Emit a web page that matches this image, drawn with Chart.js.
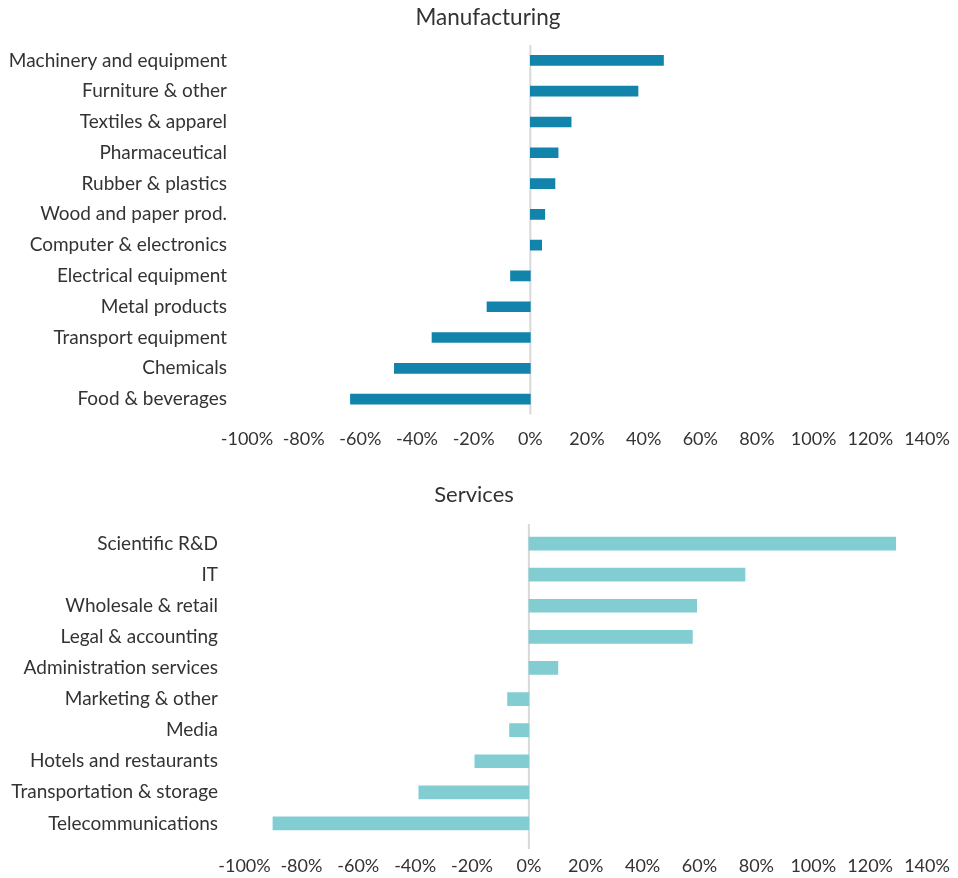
<!DOCTYPE html>
<html>
<head>
<meta charset="utf-8">
<script src="https://cdn.jsdelivr.net/npm/chart.js@4/dist/chart.umd.min.js"></script>
<style>
  html, body { margin: 0; padding: 0; background: #fff; }
  .wrap { position: absolute; left: 0; width: 958px; }
  #mfgWrap { top: 0; height: 468px; }
  #svcWrap { top: 468px; height: 410px; }
  .title {
    position: absolute; width: 300px; text-align: center;
    font: 22px Lato, "Open Sans", sans-serif; color: #333;
    line-height: 26px; white-space: nowrap;
  }
  #mfgTitle { left: 338px; top: 4px; font-size: 22.5px; }
  #svcTitle { left: 324px; top: 481px; }
</style>
</head>
<body>
<div class="wrap" id="mfgWrap"><canvas id="mfgChart"></canvas></div>
<div class="wrap" id="svcWrap"><canvas id="svcChart"></canvas></div>
<div class="title" id="mfgTitle">Manufacturing</div>
<div class="title" id="svcTitle">Services</div>
<script>
// Change by sector, percent
const mfgLabels = [
  "Machinery and equipment", "Furniture & other", "Textiles & apparel",
  "Pharmaceutical", "Rubber & plastics", "Wood and paper prod.",
  "Computer & electronics", "Electrical equipment", "Metal products",
  "Transport equipment", "Chemicals", "Food & beverages",
];
const mfgValues = [47, 38, 14.4, 9.8, 8.7, 5.1, 4.0, -7, -15.3, -34.7, -48, -63.5];

const svcLabels = [
  "Scientific R&D", "IT", "Wholesale & retail", "Legal & accounting",
  "Administration services", "Marketing & other", "Media",
  "Hotels and restaurants", "Transportation & storage", "Telecommunications",
];
const svcValues = [129, 76, 59, 57.5, 10.2, -7.5, -6.8, -19, -38.7, -90];

const xTicks = [-100, -80, -60, -40, -20, 0, 20, 40, 60, 80, 100, 120, 140];

const MFG_BLUE = "#1283AB";
const SVC_TEAL = "#82CDD2";
const TEXT = "#333333";
const FONT = "Lato, 'Open Sans', sans-serif";

// Light grey vertical line at 0%, may run a little past the bars.
const zeroLine = {
  id: "zeroLine",
  beforeDatasetsDraw(chart, args, opts) {
    const { ctx, chartArea, scales } = chart;
    const x = scales.x.getPixelForValue(0);
    ctx.save();
    ctx.strokeStyle = opts.color;
    ctx.lineWidth = opts.width;
    ctx.beginPath();
    ctx.moveTo(x, chartArea.top - opts.above);
    ctx.lineTo(x, chartArea.bottom + opts.below);
    ctx.stroke();
    ctx.restore();
  },
};

function makeChart(id, cfg) {
  return new Chart(document.getElementById(id), {
    type: "bar",
    data: {
      labels: cfg.labels,
      datasets: [{
        data: cfg.values,
        backgroundColor: cfg.color,
        borderWidth: 0,
        barThickness: cfg.barThickness,
      }],
    },
    options: {
      indexAxis: "y",
      responsive: true,
      maintainAspectRatio: false,
      animation: false,
      layout: { padding: cfg.padding },
      plugins: {
        legend: { display: false },
        tooltip: { enabled: false },
        title: { display: false },
        zeroLine: { color: "#d9d9d9", width: 2, above: cfg.lineAbove, below: cfg.lineBelow },
      },
      scales: {
        x: {
          min: xTicks[0],
          max: xTicks[xTicks.length - 1],
          afterBuildTicks: (s) => { s.ticks = xTicks.map((v) => ({ value: v })); },
          afterFit: (s) => {
            // end labels may hang over the plot edges; don't let them shrink it
            s.height = cfg.xHeight;
            s.paddingLeft = 0;
            s.paddingRight = 0;
          },
          grid: { display: false, drawTicks: false },
          border: { display: false },
          ticks: {
            color: TEXT,
            padding: cfg.xTickPadding,
            autoSkip: false,
            maxRotation: 0,
            minRotation: 0,
            font: { family: FONT, size: 18 },
            callback: (v) => v + "%",
          },
        },
        y: {
          afterFit: (s) => { s.width = cfg.yWidth; },
          grid: { display: false, drawTicks: false },
          border: { display: false },
          ticks: {
            color: TEXT,
            padding: cfg.yTickPadding,
            autoSkip: false,
            font: { family: FONT, size: 19 },
          },
        },
      },
    },
    plugins: [zeroLine],
  });
}

makeChart("mfgChart", {
  labels: mfgLabels,
  values: mfgValues,
  color: MFG_BLUE,
  barThickness: 10,
  padding: { left: 0, right: 31, top: 45, bottom: 0 },
  xHeight: 53.5,
  yWidth: 247,
  yTickPadding: 20,
  xTickPadding: 14,
  lineAbove: 0,
  lineBelow: 0,
});

makeChart("svcChart", {
  labels: svcLabels,
  values: svcValues,
  color: SVC_TEAL,
  barThickness: 13,
  padding: { left: 0, right: 31, top: 60, bottom: 0 },
  xHeight: 39,
  yWidth: 244.5,
  yTickPadding: 26.5,
  xTickPadding: 16,
  lineAbove: 4,
  lineBelow: 10,
});
</script>
</body>
</html>
